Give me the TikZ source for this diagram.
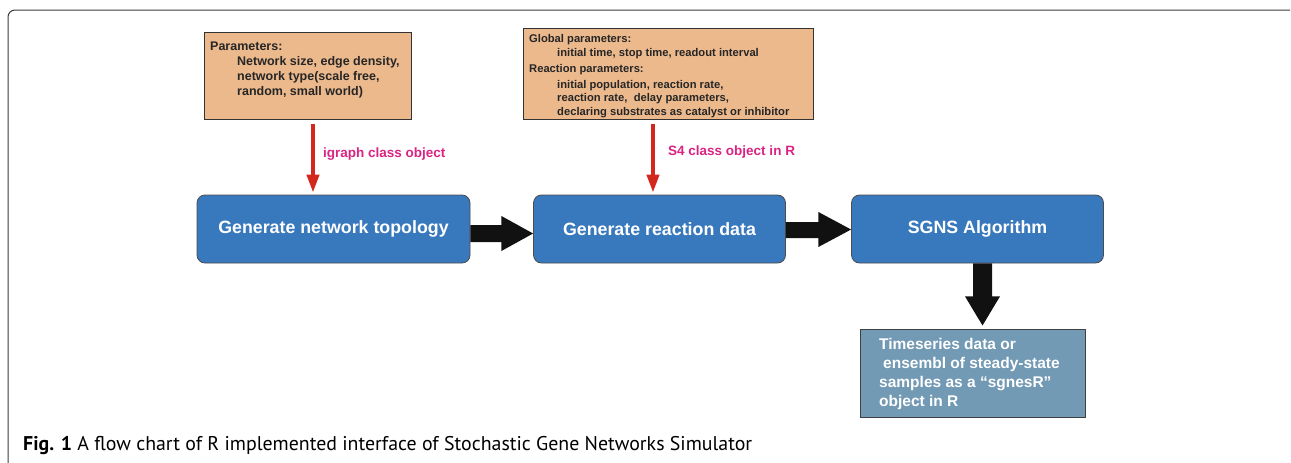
\documentclass[tikz,border=0pt]{standalone}
\usepackage{fontspec}
\setmainfont{Liberation Sans}
\newfontfamily\capfont{PT Sans}
\usepackage{graphicx}
\usetikzlibrary{arrows.meta,calc}
\definecolor{boxblue}{RGB}{56,120,188}
\definecolor{paramorange}{RGB}{236,185,140}
\definecolor{outblue}{RGB}{115,154,180}
\definecolor{arrowred}{RGB}{210,40,30}
\definecolor{labelmag}{RGB}{218,35,130}
\definecolor{framegray}{RGB}{60,60,60}
\definecolor{blk}{RGB}{17,17,17}
\begin{document}
\begin{tikzpicture}[x=1pt,y=-1pt,
  procbox/.style={draw=black!70, line width=0.8pt, fill=boxblue, rounded corners=8pt,
    minimum width=#1, minimum height=68pt, inner sep=0pt, text=white,
    font=\bfseries\fontsize{17.8}{20}\selectfont},
  parambox/.style={draw=black!80, line width=1pt, fill=paramorange, inner sep=0pt},
  ptext/.style={align=left, anchor=base west, inner sep=0pt, text=black!85},
  outbox/.style={draw=black!75, line width=1pt, fill=outblue, inner sep=0pt,
    minimum width=225pt, minimum height=88pt},
  redarr/.style={draw=arrowred, line width=4pt, -{Triangle[width=12pt,length=18pt]}},
  lbl/.style={text=labelmag, inner sep=0pt, anchor=base west, font=\bfseries\fontsize{13.5}{15}\selectfont},
  blockarrow/.style={fill=blk}
]
\useasboundingbox (0,0) rectangle (1291,463);
% frame
\draw[framegray, line width=1pt, rounded corners=7pt] (8,463) -- (8,10) -- (1290,10);

% parameter boxes
\node[parambox, minimum width=207pt, minimum height=87pt] (p1) at (307.5,75.5) {};
\node[ptext, font=\bfseries\fontsize{12.5}{15}\selectfont] (p1t) at (210,95)
  {Parameters:\\\hspace*{27pt}Network size, edge density,\\\hspace*{27pt}network type(scale free,\\\hspace*{27pt}random, small world)};

\node[parambox, minimum width=290pt, minimum height=91pt] (p2) at (668,73.5) {};
\node[ptext, font=\bfseries\fontsize{11.2}{13.5}\selectfont] (p2t) at (529,115)
  {Global parameters:\\\hspace*{28pt}initial time, stop time, readout interval\\[2.5pt]Reaction parameters:\\[2.5pt]\hspace*{28pt}initial population, reaction rate,\\\hspace*{28pt}reaction rate,\ \ delay parameters,\\\hspace*{28pt}declaring substrates as catalyst or inhibitor};

% process boxes
\node[procbox=273pt] (b1) at (333.5,229) {Generate network topology};
\node[procbox=252pt] (b2) at (659.5,229) {Generate reaction data};
\node[procbox=252pt] (b3) at (977.5,229) {SGNS Algorithm};

% output box
\node[outbox] (out) at (972.5,373) {};
\node[ptext, text=white, font=\bfseries\fontsize{15.5}{18.7}\selectfont] (outt) at (879,406)
  {Timeseries data or\\\hspace*{4pt}ensembl of steady-state\\samples as a “sgnesR”\\object in R};

% red arrows
\draw[redarr] ([xshift=5.5pt,yshift=-4pt]p1.south) -- ([xshift=-20.5pt,yshift=2pt]b1.north);
\draw[redarr] ([xshift=-15pt,yshift=-4pt]p2.south) -- ([xshift=-6.5pt,yshift=2pt]b2.north);
\node[lbl] (l1) at (323,157) {igraph class object};
\node[lbl] (l2) at (668,155) {S4 class object in R};

% block arrows
\fill[blockarrow] ($(b1.east)+(0,-4)$) -- ++(31,0) -- ++(0,-9) -- ($(b2.west)+(0,4.5)$)
  -- ($(b1.east)+(31,22)$) -- ++(0,-9) -- ($(b1.east)+(0,13)$) -- cycle;
\fill[blockarrow] ($(b2.east)+(0,-7)$) -- ++(32.5,0) -- ++(0,-10) -- ($(b3.west)+(0,0.5)$)
  -- ($(b2.east)+(32.5,18)$) -- ++(0,-9) -- ($(b2.east)+(0,9)$) -- cycle;
\fill[blockarrow] ($(b3.south)+(-4.5,0)$) -- ++(19,0) -- ++(0,33) -- ++(8,0)
  -- ($(out.north)+(10,-3)$) -- ($(b3.south)+(-12.5,33)$) -- ++(8,0) -- cycle;

% caption
\node[anchor=base west, inner sep=0pt] (cap) at (23,450)
  {\resizebox{729pt}{!}{\capfont\fontsize{16}{18}\selectfont\textbf{Fig. 1} A flow chart of R implemented interface of Stochastic Gene Networks Simulator}};
\end{tikzpicture}
\end{document}
